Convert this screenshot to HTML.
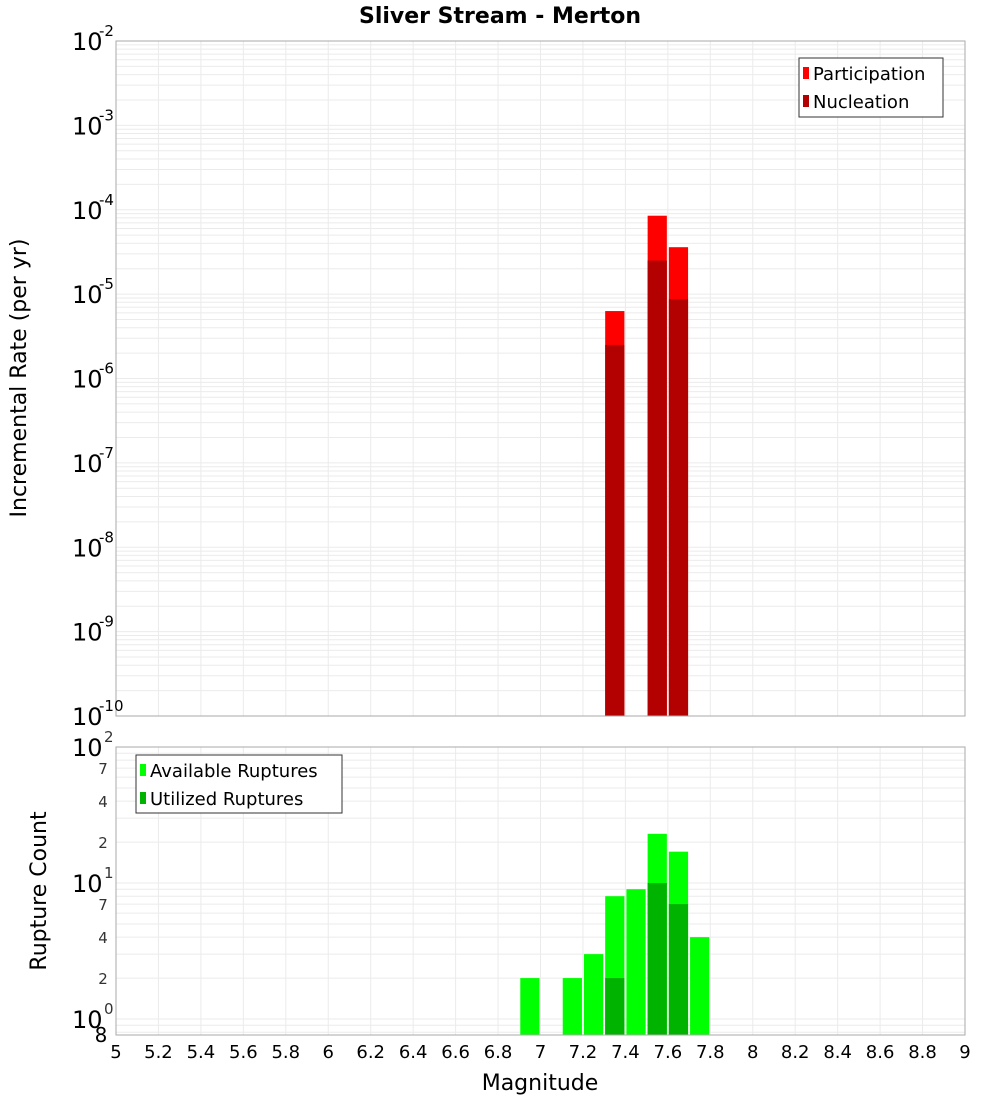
<!DOCTYPE html>
<html><head><meta charset="utf-8"><style>
body{margin:0;background:#fff;font-family:"Liberation Sans","DejaVu Sans",sans-serif}
svg text{font-family:"DejaVu Sans","Liberation Sans",sans-serif}
</style></head><body>
<svg id="c" width="1000" height="1100" xmlns="http://www.w3.org/2000/svg"></svg>
<script>
const mags=[6.95,7.15,7.25,7.35,7.45,7.55,7.65,7.75];
const topMags=[7.35,7.55,7.65];
const participation=[6.3e-6,8.5e-5,3.6e-5];
const nucleation=[2.5e-6,2.5e-5,8.7e-6];
const available=[2,2,3,8,9,23,17,4];
const utilized=[0,0,0,2,0,10,7,0];
const xTicks=[5,5.2,5.4,5.6,5.8,6,6.2,6.4,6.6,6.8,7,7.2,7.4,7.6,7.8,8,8.2,8.4,8.6,8.8,9];
const topExps=[-2,-3,-4,-5,-6,-7,-8,-9,-10];

const svg=document.getElementById('c');const NS='http://www.w3.org/2000/svg';
function el(t,a,txt){const e=document.createElementNS(NS,t);for(const k in a)e.setAttribute(k,a[k]);if(txt!==undefined)e.textContent=txt;svg.appendChild(e);return e;}
const X0=116,X1=965;
const x=m=>X0+(m-5)/4*(X1-X0);
const T0=41,T1=716;
const yT=v=>T0+(-2-Math.log10(v))/8*(T1-T0);
const B0=747,B1=1035,BMIN=0.763;
const yB=v=>B0+(2-Math.log10(v))/(2-Math.log10(BMIN))*(B1-B0);

// gridlines top
for(let d=-10;d<-2;d++)for(let k=1;k<10;k++){const v=k*Math.pow(10,d);const g=el('line',{x1:X0,x2:X1,y1:yT(v),y2:yT(v),stroke:'#ebebeb','stroke-width':1});}
// gridlines bottom
for(let d=-1;d<2;d++)for(let k=1;k<10;k++){const v=k*Math.pow(10,d);if(v<BMIN)continue;const g=el('line',{x1:X0,x2:X1,y1:yB(v),y2:yB(v),stroke:'#ebebeb','stroke-width':1});}
xTicks.forEach(t=>{[[T0,T1],[B0,B1]].forEach(r=>{const g=el('line',{x1:x(t),x2:x(t),y1:r[0],y2:r[1],stroke:'#ebebeb','stroke-width':1});});});

const bw=(X1-X0)/40-2;
topMags.forEach((m,i)=>{
 const p=el('rect',{x:x(m)-bw/2,y:yT(participation[i]),width:bw,height:T1-yT(participation[i]),fill:'#ff0000'});
 
 const n=el('rect',{x:x(m)-bw/2,y:yT(nucleation[i]),width:bw,height:T1-yT(nucleation[i]),fill:'#b30000'});
 
});
mags.forEach((m,i)=>{
 const a=el('rect',{x:x(m)-bw/2,y:yB(available[i]),width:bw,height:B1-yB(available[i]),fill:'#00ff00'});
 
 if(utilized[i]>0){const u=el('rect',{x:x(m)-bw/2,y:yB(utilized[i]),width:bw,height:B1-yB(utilized[i]),fill:'#00b300'});
 }
});
let f=el('rect',{x:X0,y:T0,width:X1-X0,height:T1-T0,fill:'none',stroke:'#aaa'});
f=el('rect',{x:X0,y:B0,width:X1-X0,height:B1-B0,fill:'none',stroke:'#aaa'});

// top y labels
topExps.forEach(e=>{const y=yT(Math.pow(10,e));
 const t=el('text',{x:72,y:y+9,'font-size':24,fill:'#000'},'10');
 const s=el('text',{x:99,y:y-5,'font-size':15,fill:'#000'},String(e));});
// bottom y labels
[[100,'2'],[10,'1'],[1,'0']].forEach(p=>{const y=yB(p[0]);
 const t=el('text',{x:72,y:y+9,'font-size':24,fill:'#000'},'10');
 const s=el('text',{x:104,y:y-5,'font-size':15,fill:'#333'},p[1]);});
[70,40,20,7,4,2].forEach(v=>{const t=el('text',{x:103,y:yB(v)+6,'font-size':15,fill:'#333','text-anchor':'middle'},String(v).charAt(0));});
let e8=el('text',{x:101,y:1042,'font-size':20,fill:'#000','text-anchor':'middle'},'8');
xTicks.forEach(t=>{const l=el('text',{x:x(t),y:1058,'font-size':18,fill:'#000','text-anchor':'middle'},String(t));});

let tt=el('text',{x:500,y:23,'font-size':22,'font-weight':'bold','text-anchor':'middle'},'Sliver Stream - Merton');
tt=el('text',{x:540,y:1090,'font-size':22,'text-anchor':'middle'},'Magnitude');
tt=el('text',{x:0,y:0,'font-size':22,'text-anchor':'middle',transform:'translate(26,378) rotate(-90)'},'Incremental Rate (per yr)');
tt=el('text',{x:0,y:0,'font-size':22,'text-anchor':'middle',transform:'translate(46,891) rotate(-90)'},'Rupture Count');

// legends
f=el('rect',{x:799,y:58,width:144,height:59,fill:'#fff',stroke:'#333'});
[['Participation','#ff0000',73],['Nucleation','#b30000',101]].forEach(l=>{
 const r=el('rect',{x:803,y:l[2]-6,width:6,height:12,fill:l[1]});
 const t=el('text',{x:813,y:l[2]+7,'font-size':18},l[0]);});
f=el('rect',{x:136,y:755,width:206,height:58,fill:'#fff',stroke:'#333'});
[['Available Ruptures','#00ff00',770],['Utilized Ruptures','#00b300',798]].forEach(l=>{
 const r=el('rect',{x:140,y:l[2]-6,width:6,height:12,fill:l[1]});
 const t=el('text',{x:150,y:l[2]+7,'font-size':18},l[0]);});
</script>
</body></html>
